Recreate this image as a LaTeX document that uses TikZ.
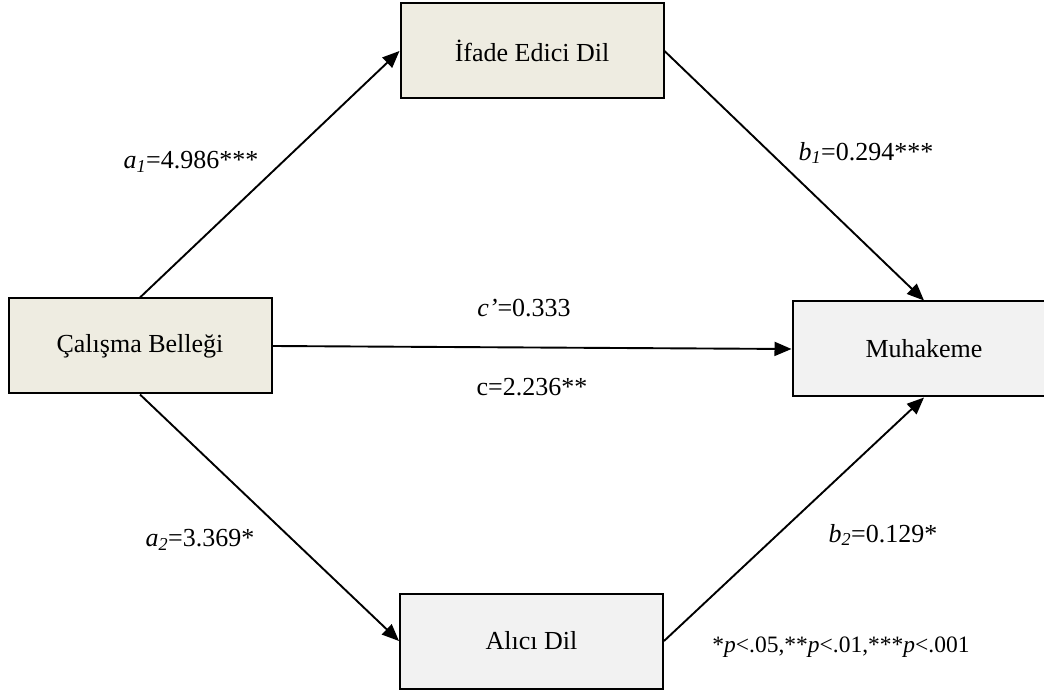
\documentclass[tikz,border=0pt]{standalone}
\usepackage{fontspec}
\setmainfont{Liberation Serif}
\usetikzlibrary{arrows.meta}
\definecolor{beigebox}{HTML}{EEECE1}
\definecolor{graybox}{HTML}{F2F2F2}
\tikzset{
  varbox/.style={draw=black, line width=2pt, minimum width=263pt, minimum height=95pt, inner sep=0pt, font=\fontsize{26}{30}\selectfont},
  beige/.style={varbox, fill=beigebox},
  grayb/.style={varbox, fill=graybox},
  path/.style={line width=1.9pt, -{Triangle[length=17pt,width=14pt]}},
  lbl/.style={inner sep=0pt, font=\fontsize{26}{30}\selectfont},
  note/.style={inner sep=0pt, font=\fontsize{23.5}{28}\selectfont}
}
\begin{document}
\begin{tikzpicture}[x=1pt,y=-1pt]
\useasboundingbox (0,0) rectangle (1044,692);
\clip (0,0) rectangle (1044,692);
\fill[white] (0,0) rectangle (1044,692);
\node[beige] (ifade) at (532,51) {İfade Edici Dil};
\node[beige] (calisma) at (140,346) {Çalışma Belleği};
\node[grayb] (muh) at (924,349) {Muhakeme};
\node[grayb] (alici) at (531.5,641) {Alıcı Dil};
\draw[path] (calisma.north) -- (ifade.west);
\draw[path] (ifade.east) -- (muh.north);
\draw[path] (calisma.east) -- (muh.west);
\draw[path] (calisma.south) -- (alici.west);
\draw[path] (alici.east) -- (muh.south);
\node[lbl] (la1) at (191,162) {\textit{a\textsubscript{1}}=4.986***};
\node[lbl] (lb1) at (866,153) {\textit{b\textsubscript{1}}=0.294***};
\node[lbl] (lcp) at (524,308) {\textit{c’}=0.333};
\node[lbl] (lc) at (532,387) {c=2.236**};
\node[lbl] (la2) at (200,540) {\textit{a\textsubscript{2}}=3.369*};
\node[lbl] (lb2) at (883,535) {\textit{b\textsubscript{2}}=0.129*};
\node[note] (fn) at (841,647) {*\textit{p}<.05,**\textit{p}<.01,***\textit{p}<.001};
\end{tikzpicture}
\end{document}
